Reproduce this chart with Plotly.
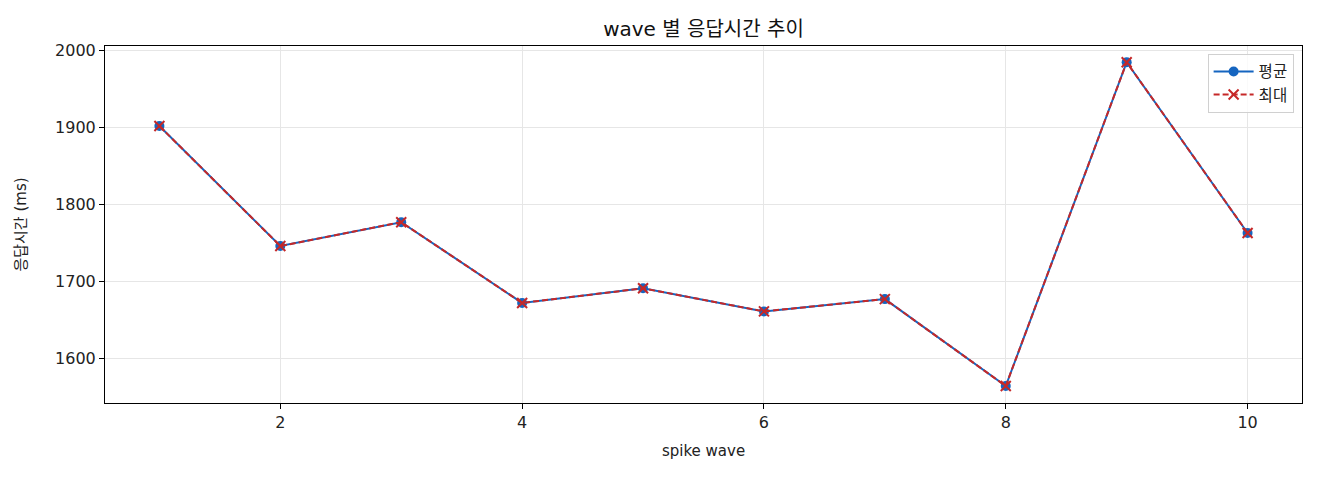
import plotly.graph_objects as go

waves = [1, 2, 3, 4, 5, 6, 7, 8, 9, 10]
avg_ms = [1902, 1746, 1777, 1672, 1691, 1661, 1677, 1564, 1985, 1763]
max_ms = [1902, 1746, 1777, 1672, 1691, 1661, 1677, 1564, 1985, 1763]

font = "DejaVu Sans, Noto Sans CJK KR"

avg = go.Scatter(x=waves, y=avg_ms, mode="lines+markers", name="평균",
                 line=dict(color="#1565C0", width=2),
                 marker=dict(symbol="circle", size=10, color="#1565C0"))
mx = go.Scatter(x=waves, y=max_ms, mode="lines+markers", name="최대",
                line=dict(color="#C62828", width=2, dash="6px,3px"),
                marker=dict(symbol="x-thin", size=10, color="#C62828",
                            line=dict(color="#C62828", width=2)))

# page body has an 8px margin, so margins are shifted to keep the plot box in place
lay = go.Layout(
    width=1320, height=480,
    paper_bgcolor="white", plot_bgcolor="white",
    font=dict(family=font, size=14, color="#222"),
    title=dict(text="wave 별 응답시간 추이", x=0.5, xref="paper", xanchor="center",
               y=0.956, yanchor="middle", font=dict(size=20, color="#111")),
    margin=dict(l=97, r=26, t=38, b=85),
    xaxis=dict(title=dict(text="spike wave", font=dict(size=15), standoff=14),
               range=[0.55, 10.45], tickvals=[2, 4, 6, 8, 10],
               showgrid=True, gridcolor="#e6e6e6", gridwidth=1,
               showline=True, linecolor="black", linewidth=1, mirror=True,
               ticks="outside", ticklen=5, tickcolor="black",
               tickfont=dict(size=16), zeroline=False),
    yaxis=dict(title=dict(text="응답시간 (ms)", font=dict(size=15), standoff=24),
               range=[1541.9, 2006.1], tickvals=[1600, 1700, 1800, 1900, 2000],
               showgrid=True, gridcolor="#e6e6e6", gridwidth=1,
               showline=True, linecolor="black", linewidth=1, mirror=True,
               ticks="outside", ticklen=5, tickcolor="black",
               tickfont=dict(size=16), zeroline=False),
    legend=dict(x=0.993, y=0.978, xanchor="right", yanchor="top",
                bgcolor="rgba(255,255,255,0.8)", bordercolor="#d0d0d0",
                borderwidth=1, font=dict(size=15.5), itemwidth=40),
    showlegend=True,
)

fig = go.Figure(data=[avg, mx], layout=lay)
fig.write_html("out.html")
